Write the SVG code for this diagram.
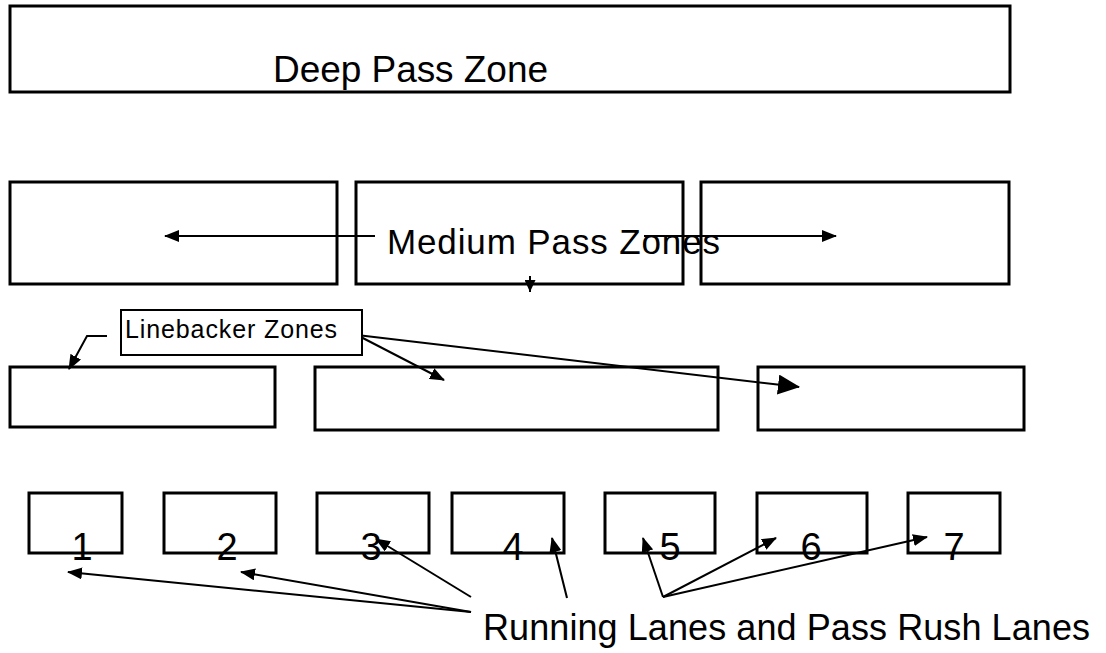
<svg xmlns="http://www.w3.org/2000/svg" width="1106" height="653" viewBox="0 0 1106 653">
<style>
.box{fill:#fff;stroke:#000;stroke-width:3}
.thin{fill:#fff;stroke:#000;stroke-width:2}
.t{font-family:"Liberation Sans",Arial,sans-serif;fill:#000}
.c{fill:none;stroke:#000;stroke-width:2}
</style>
<defs>
<marker id="ah" markerWidth="12" markerHeight="11" refX="12" refY="5.5" orient="auto" markerUnits="userSpaceOnUse"><path d="M0,0 L12,5.5 L0,11 z" fill="#000"/></marker>
<marker id="ahb" markerWidth="22" markerHeight="20" refX="21" refY="10" orient="auto" markerUnits="userSpaceOnUse"><path d="M0,0 L22,10 L0,20 z" fill="#000"/></marker>
<marker id="ahm" markerWidth="15" markerHeight="12" refX="14" refY="6" orient="auto" markerUnits="userSpaceOnUse"><path d="M0,0 L15,6 L0,12 z" fill="#000"/></marker>
</defs>
<rect width="1106" height="653" fill="#fff"/>
<g id="deep"><rect class="box" x="10" y="6" width="1000" height="86"/><text class="t" x="273" y="82" font-size="37" textLength="275" lengthAdjust="spacing">Deep Pass Zone</text></g>
<g id="med1"><rect class="box" x="10" y="182" width="327" height="102"/></g>
<g id="med2"><rect class="box" x="356" y="182" width="327" height="102"/></g>
<g id="med3"><rect class="box" x="701" y="182" width="308" height="102"/></g>
<g id="lb1"><rect class="box" x="10" y="367" width="265" height="60"/></g>
<g id="lb2"><rect class="box" x="315" y="367" width="403" height="63"/></g>
<g id="lb3"><rect class="box" x="758" y="367" width="266" height="63"/></g>
<g id="lane1"><rect class="box" x="29" y="493" width="93" height="60"/></g>
<g id="lane2"><rect class="box" x="164" y="493" width="112" height="60"/></g>
<g id="lane3"><rect class="box" x="317" y="493" width="112" height="60"/></g>
<g id="lane4"><rect class="box" x="452" y="493" width="112" height="60"/></g>
<g id="lane5"><rect class="box" x="605" y="493" width="110" height="60"/></g>
<g id="lane6"><rect class="box" x="757" y="493" width="110" height="60"/></g>
<g id="lane7"><rect class="box" x="908" y="493" width="92" height="60"/></g>
<g id="connectors">
<line class="c" x1="375" y1="236" x2="165" y2="236" marker-end="url(#ahm)"/>
<line class="c" x1="644" y1="236" x2="836" y2="236" marker-end="url(#ahm)"/>
<line class="c" x1="530" y1="276" x2="530" y2="292" marker-end="url(#ah)"/>
<polyline class="c" points="107,336 87,336 69,369" marker-end="url(#ahm)"/>
<line class="c" x1="357" y1="335" x2="444" y2="380" marker-end="url(#ahm)"/>
<line class="c" x1="357" y1="335" x2="799" y2="387" marker-end="url(#ahb)"/>
<line class="c" x1="471" y1="612" x2="68" y2="572" marker-end="url(#ahm)"/>
<line class="c" x1="471" y1="612" x2="241" y2="572" marker-end="url(#ahm)"/>
<line class="c" x1="471" y1="597" x2="376" y2="539" marker-end="url(#ahm)"/>
<line class="c" x1="567" y1="598" x2="552" y2="538" marker-end="url(#ahm)"/>
<line class="c" x1="663" y1="597" x2="643" y2="538" marker-end="url(#ahm)"/>
<line class="c" x1="663" y1="597" x2="776" y2="538" marker-end="url(#ahm)"/>
<line class="c" x1="663" y1="597" x2="927" y2="537" marker-end="url(#ahm)"/>
</g>
<g id="medlabel"><text class="t" x="387" y="254" font-size="35" textLength="333" lengthAdjust="spacing">Medium Pass Zones</text></g>
<g id="lblabel"><rect class="thin" x="121" y="310" width="241" height="45"/><text class="t" x="125" y="338" font-size="25" textLength="212" lengthAdjust="spacing">Linebacker Zones</text></g>
<g id="numbers" class="t" font-size="38" text-anchor="middle">
<text x="82" y="560">1</text><text x="227" y="560">2</text><text x="371" y="560">3</text><text x="513" y="560">4</text><text x="670" y="560">5</text><text x="811" y="560">6</text><text x="954" y="560">7</text>
</g>
<g id="bottomlabel"><text class="t" x="483" y="640" font-size="36" textLength="607" lengthAdjust="spacing">Running Lanes and Pass Rush Lanes</text></g>
</svg>
